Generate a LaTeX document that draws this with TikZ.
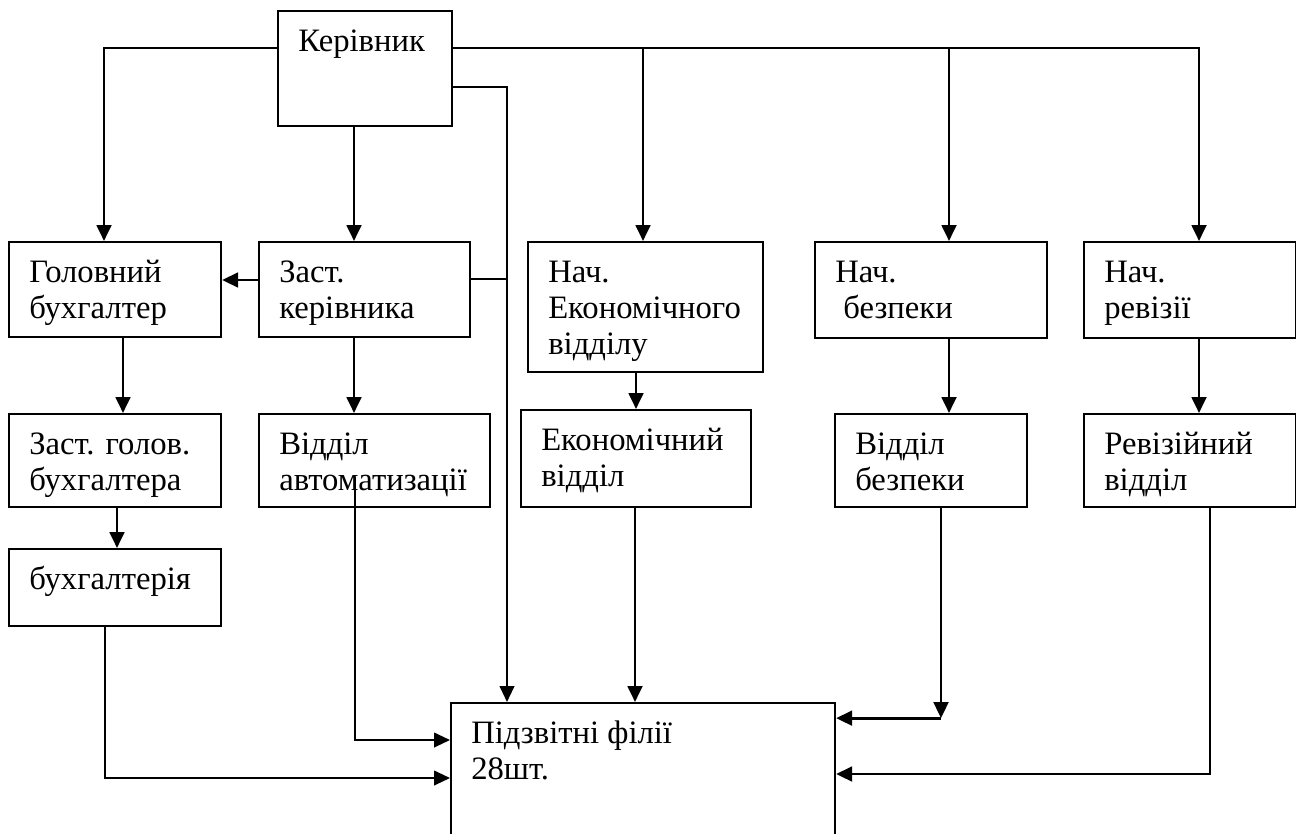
\documentclass[tikz,border=0pt]{standalone}
\usepackage{fontspec}
\setmainfont{Liberation Serif}
\usetikzlibrary{arrows.meta,calc}
\begin{document}
\begin{tikzpicture}[x=0.75pt,y=-0.75pt,
  box/.style={draw, line width=1.6pt, inner sep=0pt, anchor=north west},
  lbl/.style={anchor=north west, inner sep=0pt, align=left, font=\fontsize{24.5}{27}\selectfont},
  conn/.style={line width=2.1pt},
  thinline/.style={line width=1.5pt},
  arr/.style={-{Triangle[length=12pt,width=11pt]}},
]
\clip (0,0) rectangle (1296,833);
\useasboundingbox (0,0) rectangle (1296,833);
\newcommand\bx[6]{%
  \node[box, minimum width={#4*0.75pt}, minimum height={#5*0.75pt}] (#1) at (#2,#3) {};
  \node[lbl] (#1-t) at ([xshift=15.75pt,yshift=-10.75pt]#1.north west) {\rule{0pt}{20pt}#6};}

% boxes
\bx{K}{277}{10}{174}{115}{Керівник}
\bx{G}{8}{241}{212}{95}{Головний\\бухгалтер}
\bx{Z}{258}{241}{211}{95}{Заст.\\керівника}
\bx{NE}{527}{241}{235}{130}{Нач.\\Економічного\\відділу}
\bx{NB}{814}{241}{232}{96}{Нач.\\\hspace{0.25em}безпеки}
\bx{NR}{1083}{241}{212}{96}{Нач.\\ревізії}
\bx{ZG}{8}{413}{212}{93}{Заст. голов.\\бухгалтера}
\bx{VA}{258}{413}{231}{93}{Відділ\\автоматизації}
\bx{E}{520}{409}{230}{97}{Економічний\\відділ}
\bx{VB}{834}{413}{192}{93}{Відділ\\безпеки}
\bx{R}{1083}{413}{212}{93}{Ревізійний\\відділ}
\bx{B}{8}{548}{212}{77}{бухгалтерія}
\bx{P}{450}{702}{384}{200}{Підзвітні філії\\28шт.}

% named attachment points
\coordinate (busL) at ($(K.north west)+(0,38)$);
\coordinate (busR) at ($(K.north east)+(0,38)$);
\coordinate (pin)  at ($(P.north west)+(57,0)$);
\coordinate (gin)  at ($(G.north west)+(96,0)$);
\coordinate (nein) at ($(NE.north west)+(116,0)$);
\coordinate (nbin) at ($(NB.north west)+(135,0)$);
\coordinate (nrin) at ($(NR.north west)+(116,0)$);
\coordinate (zl)   at ($(Z.north west)+(0,39)$);
\coordinate (zr)   at ($(Z.north east)+(0,38)$);
\coordinate (kr)   at ($(K.north east)+(0,77)$);
\coordinate (vbc)  at ($(VB.south west)+(107,210)$);

% top bus
\draw[conn,arr] (busL) -| (gin);
\draw[conn,arr] (busR) -| (nrin);
\draw[conn,arr] (nein |- busR) -- (nein);
\draw[conn,arr] (nbin |- busR) -- (nbin);
\draw[conn,arr] ($(K.south west)+(77,0)$) -- ($(Z.north west)+(96,0)$);
\draw[thinline,arr] (kr) -| (pin);

% Заст. керівника
\draw[conn,arr] (zl) -- (zl -| G.east);
\draw[thinline] (zr) -- (zr -| pin);

% row 2 to row 3
\draw[conn,arr] ($(G.south west)+(115,0)$) coordinate (g1) -- (g1 |- ZG.north);
\draw[conn,arr] ($(Z.south west)+(96,0)$) coordinate (z1) -- (z1 |- VA.north);
\draw[conn,arr] ($(NE.south west)+(109,0)$) coordinate (ne1) -- (ne1 |- E.north);
\draw[conn,arr] ($(NB.south west)+(135,0)$) coordinate (nb1) -- (nb1 |- VB.north);
\draw[conn,arr] ($(NR.south west)+(116,0)$) coordinate (nr1) -- (nr1 |- R.north);
\draw[conn,arr] ($(ZG.south west)+(109,0)$) coordinate (zg1) -- (zg1 |- B.north);

% to Підзвітні філії
\draw[thinline,arr] ($(B.south west)+(97,0)$) |- ($(P.north west)+(0,76)$);
\draw[thinline,arr] ($(VA.north west)+(97,64)$) |- ($(P.north west)+(0,38)$);
\draw[conn,arr] ($(E.south west)+(115,0)$) coordinate (e1) -- (e1 |- P.north);
\draw[conn,arr] ($(VB.south west)+(107,0)$) -- (vbc);
\draw[conn,arr] (vbc) -- (vbc -| P.east);
\draw[conn,arr] ($(R.south west)+(127,0)$) |- ($(P.north east)+(0,72)$);
\end{tikzpicture}
\end{document}
